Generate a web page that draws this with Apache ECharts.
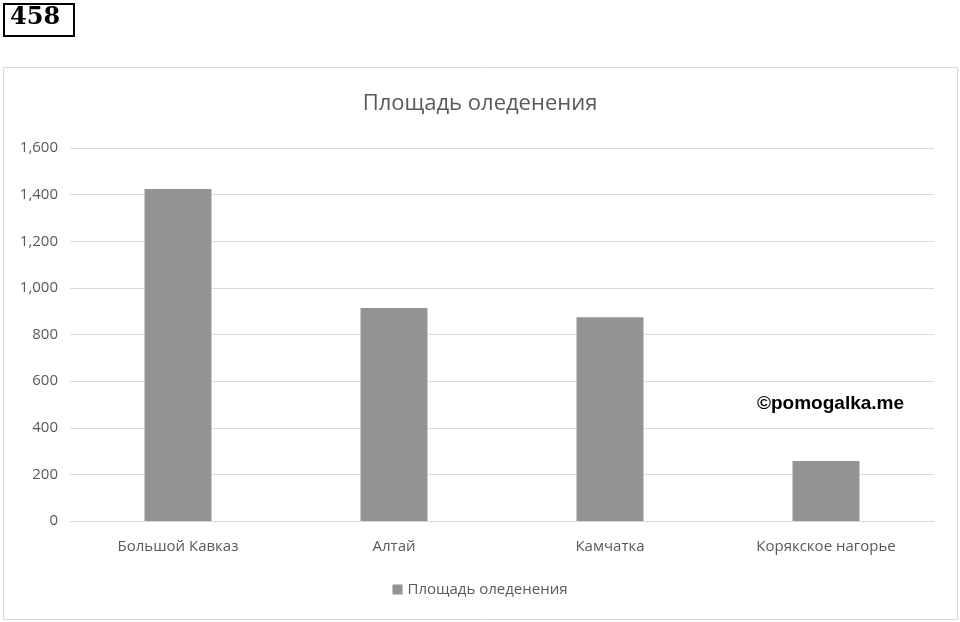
<!DOCTYPE html>
<html><head><meta charset="utf-8">
<script src="https://cdn.jsdelivr.net/npm/echarts@6/dist/echarts.min.js"></script>
<style>html,body{margin:0;padding:0;background:#fff}#c{width:960px;height:622px}</style>
</head><body><div id="c"></div>
<script>
const categories = ["Большой Кавказ","Алтай","Камчатка","Корякское нагорье"];
const values = [1424, 914, 874, 257];
const seriesName = "Площадь оледенения";
const chart = echarts.init(document.getElementById('c'));
chart.setOption({
  animation:false,
  graphic:[
    {type:'rect',shape:{x:3.5,y:67.5,width:954,height:552},style:{fill:'none',stroke:'#d9d9d9',lineWidth:1}},
    {type:'rect',shape:{x:4,y:4,width:70,height:32},style:{fill:'#fff',stroke:'#000',lineWidth:2}},
    {type:'text',left:10,top:6,style:{text:'458',font:'bold 24px "DejaVu Serif"',fill:'#000'}},
    {type:'text',left:757,top:394,style:{text:'©pomogalka.me',font:'bold 19px "Liberation Sans"',fill:'#000'}}
  ],
  title:{text:'Площадь оледенения',left:'center',top:88,textStyle:{fontFamily:'Open Sans',fontSize:22,fontWeight:'normal',color:'#595959'}},
  legend:{bottom:20,left:'center',icon:'rect',itemWidth:10,itemHeight:10,itemGap:5,textStyle:{fontFamily:'Open Sans',fontSize:15,color:'#595959'}},
  grid:{left:70,right:26,top:148,bottom:101,containLabel:false},
  xAxis:{type:'category',data:categories,axisTick:{show:false},axisLine:{lineStyle:{color:'#d9d9d9'}},
    axisLabel:{fontFamily:'Open Sans',fontSize:15,color:'#595959',margin:18}},
  yAxis:{type:'value',min:0,max:1600,interval:200,axisLine:{show:false},axisTick:{show:false},
    splitLine:{lineStyle:{color:'#d9d9d9'}},axisLabel:{fontFamily:'Open Sans',fontSize:15,color:'#595959',margin:12}},
  series:[{name:seriesName,type:'bar',data:values,barWidth:'31%',itemStyle:{color:'#939393'}}]
});
</script></body></html>
